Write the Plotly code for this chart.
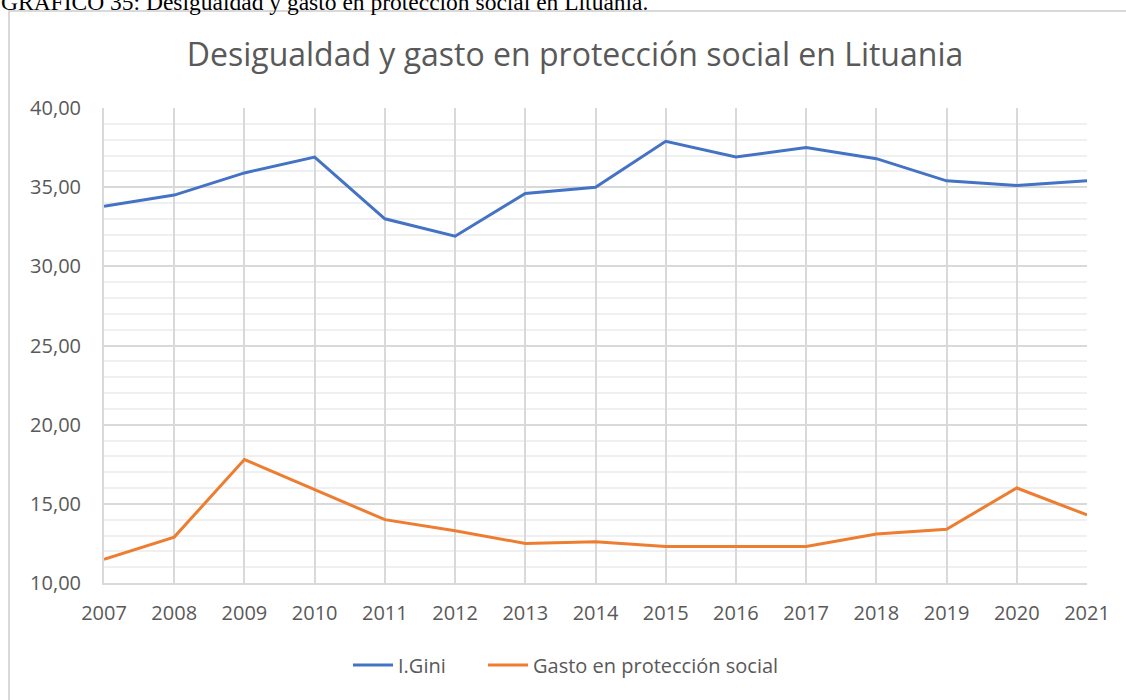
import plotly.graph_objects as go

# Lithuania: Gini index and social protection spending, 2007-2021
years = [2007, 2008, 2009, 2010, 2011, 2012, 2013, 2014,
         2015, 2016, 2017, 2018, 2019, 2020, 2021]
gini = [33.8, 34.5, 35.9, 36.9, 33.0, 31.9, 34.6, 35.0,
        37.9, 36.9, 37.5, 36.8, 35.4, 35.1, 35.4]
gasto = [11.5, 12.9, 17.8, 15.9, 14.0, 13.3, 12.5, 12.6,
         12.3, 12.3, 12.3, 13.1, 13.4, 16.0, 14.3]

series_names = ["I.Gini", "Gasto en protección social"]
series_colors = ["#4472C4", "#ED7D31"]
legend_ids = ["legend", "legend2"]

title_text = "Desigualdad y gasto en protección social en Lituania"
caption_text = ("GRÁFICO 35: Desigualdad y gasto en protección social "
                "en Lituania.")

text_gray = "#595959"
grid_major = "#d9d9d9"
grid_minor = "#f0f0f0"
font_family = "Open Sans, Noto Sans, sans-serif"

fig = go.Figure()
for name, vals, col, lg in zip(series_names, [gini, gasto],
                               series_colors, legend_ids):
    fig.add_trace(go.Scatter(
        x=years, y=vals, name=name, mode="lines",
        line=dict(color=col, width=3), legend=lg,
    ))

L, R, T, B = 104, 39, 108, 117
W, H = 1126, 700
pw, ph = W - L - R, H - T - B


def px_x(p):
    return (p - L) / pw


def px_y(p):
    return (H - B - p) / ph


legend_style = dict(
    orientation="h", xanchor="left",
    y=px_y(665), yanchor="middle",
    font=dict(family=font_family, size=20, color=text_gray),
    itemwidth=40, bgcolor="rgba(0,0,0,0)",
)

fig.update_layout(
    width=W, height=H,
    margin=dict(l=L, r=R, t=T, b=B, pad=0),
    paper_bgcolor="white", plot_bgcolor="white",
    separators=",.",
    font=dict(family=font_family, color=text_gray, size=20),
    title=dict(
        text=title_text, x=575 / W, xanchor="center",
        y=1 - 55 / H, yanchor="middle",
        font=dict(family=font_family, size=32, color=text_gray),
    ),
    showlegend=True,
    legend=dict(x=px_x(348), **legend_style),
    legend2=dict(x=px_x(483), **legend_style),
    xaxis=dict(
        range=[2007, 2021], tickmode="array", tickvals=years,
        ticktext=[str(y) for y in years],
        showgrid=True, gridcolor=grid_major, gridwidth=2,
        showline=True, linecolor=grid_major, linewidth=2,
        zeroline=False, ticks="", ticklabelstandoff=11,
        tickfont=dict(size=20, color=text_gray),
        fixedrange=True,
    ),
    yaxis=dict(
        range=[10, 40], tickmode="linear", tick0=10, dtick=5,
        tickformat=".2f",
        showgrid=True, gridcolor=grid_major, gridwidth=2,
        showline=True, linecolor=grid_major, linewidth=2,
        zeroline=False, ticks="", ticklabelstandoff=17,
        tickfont=dict(size=20, color=text_gray),
        minor=dict(dtick=1, showgrid=True, gridcolor=grid_minor,
                   gridwidth=2),
        fixedrange=True,
    ),
)

# Frame around the chart object
fig.add_shape(
    type="rect", xref="paper", yref="paper", layer="below",
    x0=px_x(9), x1=px_x(1140), y0=px_y(715), y1=px_y(11),
    line=dict(color="#d9d9d9", width=2), fillcolor="rgba(0,0,0,0)",
)

# Document caption above the frame
fig.add_annotation(
    text=caption_text, xref="paper", yref="paper",
    x=px_x(-1), xanchor="left", y=px_y(17), yanchor="bottom",
    showarrow=False,
    font=dict(family="Liberation Serif, Times New Roman, serif",
              size=23.5, color="black"),
)

fig.write_html("out.html")
